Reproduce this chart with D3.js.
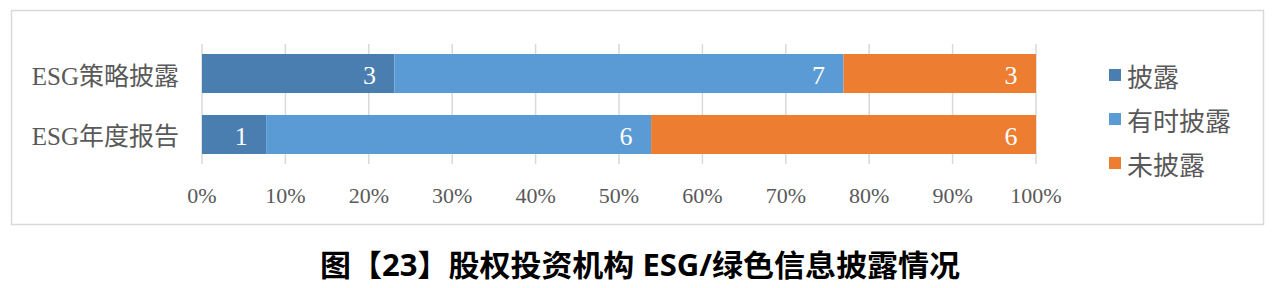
<!DOCTYPE html>
<html>
<head>
<meta charset="utf-8">
<script src="https://cdn.jsdelivr.net/npm/d3@7"></script>
<style>
  body { margin: 0; background: #fff; }
  text { font-family: "Liberation Serif", "Noto Sans CJK SC", serif; }
</style>
</head>
<body>
<div id="chart"></div>
<script>
// Categories and counts
const categories = ["ESG策略披露", "ESG年度报告"];
const seriesNames = ["披露", "有时披露", "未披露"];
const disclosed = [3, 1];
const sometimes = [7, 6];
const notDisclosed = [3, 6];
const ticks = [0, 0.1, 0.2, 0.3, 0.4, 0.5, 0.6, 0.7, 0.8, 0.9, 1];
const colors = ["#4a7eb0", "#5b9bd5", "#ed7d31"];

const width = 1280, height = 288;

const svg = d3.select("#chart").append("svg")
    .attr("width", width)
    .attr("height", height);

// Outer frame
svg.append("rect")
    .attr("x", 11.5).attr("y", 10.5)
    .attr("width", 1252).attr("height", 214)
    .attr("fill", "#fff")
    .attr("stroke", "#d9d9d9")
    .attr("stroke-width", 1.5);

const x = d3.scaleLinear().domain([0, 1]).range([202, 1036]);
const y = d3.scaleBand().domain(categories).range([44, 164])
    .paddingInner(0.36).paddingOuter(0.164);

// Build rows for stacking
const rows = categories.map((c, i) => ({
  cat: c, "披露": disclosed[i], "有时披露": sometimes[i], "未披露": notDisclosed[i]
}));
const stack = d3.stack().keys(seriesNames).offset(d3.stackOffsetExpand);
const layers = stack(rows);

// Gridlines
svg.append("g").selectAll("line")
  .data(ticks)
  .join("line")
    .attr("x1", d => x(d)).attr("x2", d => x(d))
    .attr("y1", 44).attr("y2", 164)
    .attr("stroke", "#d9d9d9")
    .attr("stroke-width", 1.5);

// Bars
const g = svg.append("g");
layers.forEach((layer, k) => {
  g.selectAll(".s" + k)
    .data(layer)
    .join("rect")
      .attr("x", d => x(d[0]))
      .attr("y", d => y(d.data.cat))
      .attr("width", d => x(d[1]) - x(d[0]))
      .attr("height", y.bandwidth())
      .attr("fill", colors[k]);

  g.selectAll(".l" + k)
    .data(layer)
    .join("text")
      .attr("x", d => x(d[1]) - 25)
      .attr("y", d => y(d.data.cat) + y.bandwidth() / 2 + 1)
      .attr("dy", "0.36em")
      .attr("text-anchor", "middle")
      .attr("fill", "#fff")
      .attr("font-size", 26)
      .text(d => d.data[layer.key]);
});

// Category labels
svg.append("g").selectAll("text")
  .data(categories)
  .join("text")
    .attr("x", 179)
    .attr("y", d => y(d) + y.bandwidth() / 2 + 2)
    .attr("dy", "0.36em")
    .attr("text-anchor", "end")
    .attr("fill", "#595959")
    .attr("font-size", 25)
    .text(d => d);

// X tick labels
svg.append("g").selectAll("text")
  .data(ticks)
  .join("text")
    .attr("x", d => x(d))
    .attr("y", 195)
    .attr("dy", "0.36em")
    .attr("text-anchor", "middle")
    .attr("fill", "#595959")
    .attr("font-size", 22)
    .text(d => d3.format(".0%")(d));

// Legend
const legend = svg.append("g").selectAll("g")
  .data(seriesNames)
  .join("g")
    .attr("transform", (d, i) => `translate(1109, ${75 + i * 44})`);
legend.append("rect")
    .attr("x", 0).attr("y", -6)
    .attr("width", 12).attr("height", 12)
    .attr("fill", (d, i) => colors[i]);
legend.append("text")
    .attr("x", 18)
    .attr("y", 3)
    .attr("dy", "0.36em")
    .attr("fill", "#595959")
    .attr("font-size", 26)
    .text(d => d);

// Caption
svg.append("text")
    .attr("x", 640)
    .attr("y", 265)
    .attr("dy", "0.36em")
    .attr("text-anchor", "middle")
    .attr("fill", "#000")
    .attr("font-size", 30)
    .attr("font-weight", "bold")
    .attr("textLength", 640)
    .attr("lengthAdjust", "spacingAndGlyphs")
    .style("font-family", "'Open Sans', 'Noto Sans CJK SC', sans-serif")
    .text("图【23】股权投资机构 ESG/绿色信息披露情况");
</script>
</body>
</html>
